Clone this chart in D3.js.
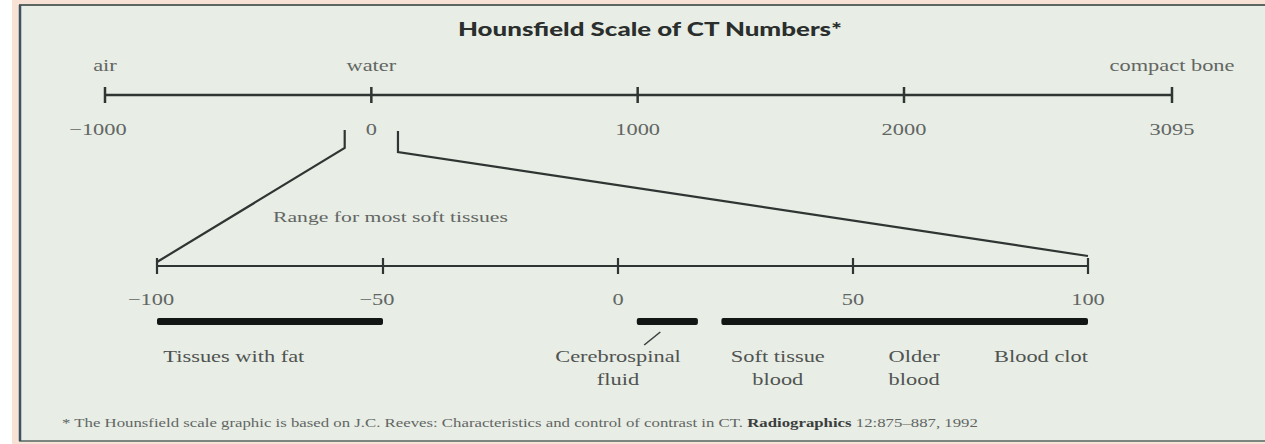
<!DOCTYPE html>
<html>
<head>
<meta charset="utf-8">
<script src="https://cdn.jsdelivr.net/npm/d3@7"></script>
<style>
    body { margin: 0; background: #ffffff; }
</style>
</head>
<body>
<div id="canvas"></div>
<script>
"use strict"

/* Data */
let titleText = "Hounsfield Scale of CT Numbers*"
let topTicks = [-1000, 0, 1000, 2000, 3095]          /* Hounsfield units on the full scale */
let materialNames = ["air", "water", "compact bone"]
let materialHU = [-1000, 0, 3095]
let zoomRange = [-100, 100]                           /* part of the top scale blown up below */
let zoomLabel = "Range for most soft tissues"
let bottomTicks = [-100, -50, 0, 50, 100]
let tissueStart = [-100, 4, 22]                       /* black bars */
let tissueEnd = [-50, 17, 100]
let labelLines = [["Tissues with fat"], ["Cerebrospinal", "fluid"], ["Soft tissue", "blood"], ["Older", "blood"], ["Blood clot"]]
let labelHU = [-83, 0, 34, 63, 90]
let pointerHU = [9, 6]                                /* little slash from the CSF bar to its label */
let footnoteParts = [
    {text: "* The Hounsfield scale graphic is based on J.C. Reeves: Characteristics and control of contrast in CT. ", bold: false},
    {text: "Radiographics", bold: true},
    {text: " 12:875\u2013887, 1992", bold: false}
]

let svgWidth = 1265
let svgHeight = 444
let stretch = 1.4   /* the scan is wider than tall, so the lettering is stretched sideways */

let svg = d3.select("#canvas")
    .append("svg")
    .attr("width", svgWidth)
    .attr("height", svgHeight)

/* frame: peach margin and the light panel */
svg.append("rect")
    .attr("x", 12).attr("y", 0)
    .attr("width", svgWidth - 12).attr("height", svgHeight)
    .attr("fill", "#f8e2d6")
svg.append("rect")
    .attr("x", 19).attr("y", 5)
    .attr("width", svgWidth - 19).attr("height", 436)
    .attr("fill", "#e8ede6")
svg.append("line")
    .attr("x1", 19).attr("y1", 5).attr("x2", svgWidth).attr("y2", 5)
    .attr("stroke", "#5d6762").attr("stroke-width", 2)
svg.append("line")
    .attr("x1", 19).attr("y1", 441).attr("x2", svgWidth).attr("y2", 441)
    .attr("stroke", "#7c8580").attr("stroke-width", 2)
svg.append("line")
    .attr("x1", 20).attr("y1", 5).attr("x2", 20).attr("y2", 441)
    .attr("stroke", "#3f5260").attr("stroke-width", 2.5)

/* helper for the stretched lettering */
function addText(parent, x, y, str, size, color, anchor, family, weight) {
    return parent.append("text")
        .attr("transform", `translate(${x},${y}) scale(${stretch},1)`)
        .attr("text-anchor", anchor)
        .style("font-family", family || "'Liberation Serif', serif")
        .style("font-weight", weight || "normal")
        .style("font-size", size + "px")
        .style("fill", color)
        .text(str)
}

/* scales */
let topX = d3.scaleLinear()
    .domain([-1000, 2000, 3095])
    .range([105, 904, 1172])
let botX = d3.scaleLinear()
    .domain([-100, -50, 100])
    .range([157, 383, 1088])

let topY = 95
let botY = 266

/* title */
addText(svg, 650, 36, titleText, 18.5, "#2a2e2c", "middle", "Lato, sans-serif", "900")

/* top axis */
let topAxis = svg.append("g")
topAxis.append("line")
    .attr("x1", topX(topTicks[0])).attr("x2", topX(topTicks[topTicks.length - 1]))
    .attr("y1", topY).attr("y2", topY)
    .attr("stroke", "#2f3532").attr("stroke-width", 2.5)
topAxis.selectAll("line.tick")
    .data(topTicks)
    .join("line")
    .classed("tick", true)
    .attr("x1", d => topX(d)).attr("x2", d => topX(d))
    .attr("y1", topY - 8).attr("y2", topY + 8)
    .attr("stroke", "#2f3532").attr("stroke-width", 2.5)
topTicks.forEach(function (d) {
    let label = d < 0 ? "\u2212" + Math.abs(d) : String(d)
    addText(topAxis, topX(d) - (d < 0 ? 7 : 0), topY + 40, label, 16, "#626663", "middle")
})
materialNames.forEach(function (name, i) {
    addText(topAxis, topX(materialHU[i]), topY - 24, name, 16, "#626663", "middle")
})

/* connector from the top scale down to the zoomed scale */
let connector = svg.append("g")
let leftPath = d3.path()
leftPath.moveTo(topX(zoomRange[0]), 130)
leftPath.lineTo(topX(zoomRange[0]), 148)
leftPath.lineTo(botX(zoomRange[0]), botY - 4)
let rightPath = d3.path()
rightPath.moveTo(topX(zoomRange[1]), 131)
rightPath.lineTo(topX(zoomRange[1]), 152)
rightPath.lineTo(botX(zoomRange[1]), botY - 10)
connector.selectAll("path")
    .data([leftPath.toString(), rightPath.toString()])
    .join("path")
    .attr("d", d => d)
    .attr("fill", "none")
    .attr("stroke", "#2f3532")
    .attr("stroke-width", 2.2)
addText(connector, 273, 222, zoomLabel, 15.5, "#626663", "start")

/* bottom axis */
let botAxis = svg.append("g")
botAxis.append("line")
    .attr("x1", botX(bottomTicks[0])).attr("x2", botX(bottomTicks[bottomTicks.length - 1]))
    .attr("y1", botY).attr("y2", botY)
    .attr("stroke", "#2f3532").attr("stroke-width", 2.2)
botAxis.selectAll("line.tick")
    .data(bottomTicks)
    .join("line")
    .classed("tick", true)
    .attr("x1", d => botX(d)).attr("x2", d => botX(d))
    .attr("y1", botY - 8).attr("y2", botY + 8)
    .attr("stroke", "#2f3532").attr("stroke-width", 2.2)
bottomTicks.forEach(function (d) {
    let label = d < 0 ? "\u2212" + Math.abs(d) : String(d)
    addText(botAxis, botX(d) - (d < 0 ? 6 : 0), botY + 39, label, 16, "#626663", "middle")
})

/* tissue bars */
svg.selectAll("rect.bar")
    .data(tissueStart)
    .join("rect")
    .classed("bar", true)
    .attr("x", (d, i) => botX(d))
    .attr("width", (d, i) => botX(tissueEnd[i]) - botX(d))
    .attr("y", 318)
    .attr("height", 7)
    .attr("rx", 2)
    .attr("fill", "#121614")

svg.append("line")
    .attr("x1", botX(pointerHU[0])).attr("y1", 332)
    .attr("x2", botX(pointerHU[1]) - 2).attr("y2", 345)
    .attr("stroke", "#3a403d").attr("stroke-width", 1.6)

/* tissue labels */
labelLines.forEach(function (lines, i) {
    lines.forEach(function (line, j) {
        addText(svg, botX(labelHU[i]), 362 + j * 23, line, 16, "#505451", "middle")
    })
})

/* footnote */
let foot = svg.append("text")
    .attr("transform", `translate(62,427) scale(${stretch},1)`)
    .style("font-family", "'Liberation Serif', serif")
    .style("font-size", "12px")
    .style("fill", "#626663")
footnoteParts.forEach(function (p) {
    foot.append("tspan")
        .style("font-weight", p.bold ? "bold" : "normal")
        .style("fill", p.bold ? "#3a3e3c" : "#626663")
        .text(p.text)
})
</script>
</body>
</html>
